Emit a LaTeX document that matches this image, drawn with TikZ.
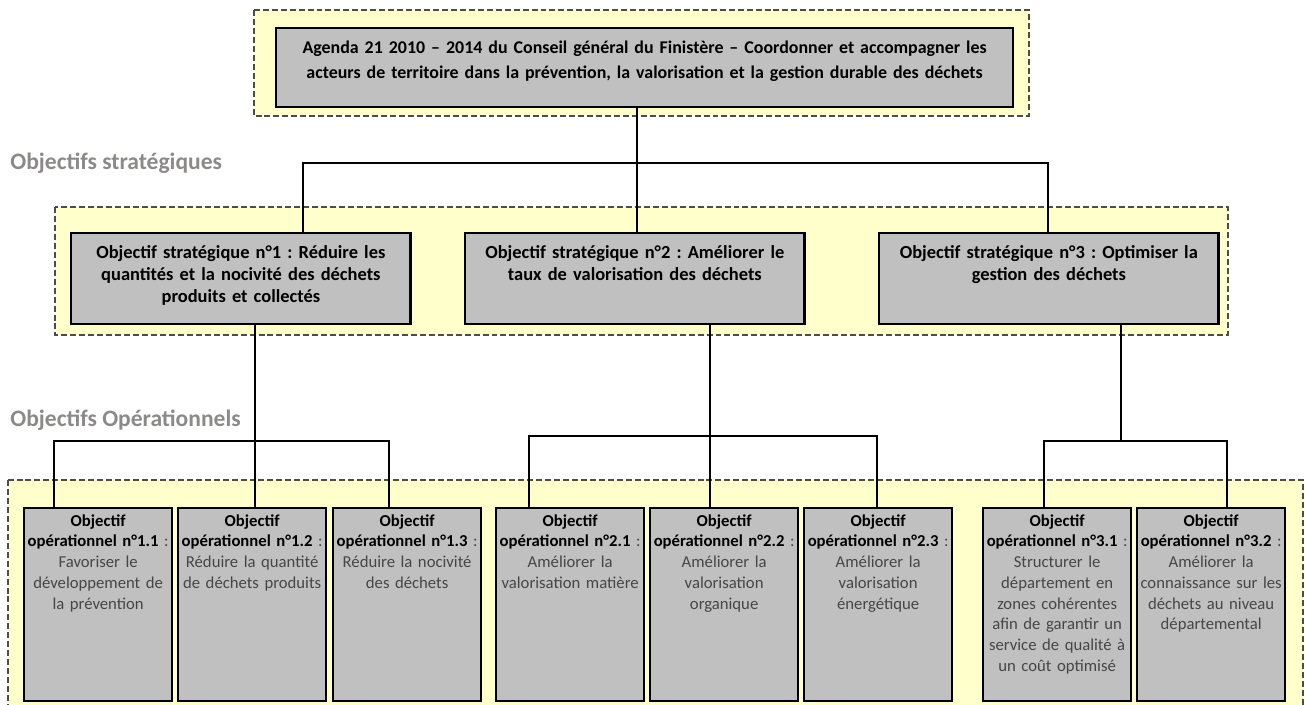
\documentclass[tikz,border=0pt]{standalone}
\usepackage{fontspec}
\setmainfont{Carlito}
\usetikzlibrary{positioning}
\frenchspacing

\definecolor{jaunepanneau}{HTML}{FFFFCC}
\definecolor{grisboite}{HTML}{C0C0C0}
\definecolor{grisniveau}{HTML}{8C8A88}
\definecolor{gristexte}{HTML}{464646}

\newcommand{\objop}[1]{\textcolor{black}{\bfseries Objectif}\\\textcolor{black}{\bfseries opérationnel n°#1} :}

\tikzset{
  panneau/.style={draw=black!70, fill=jaunepanneau, line width=0.6pt, dash pattern=on 3.4pt off 1.7pt},
  boite/.style={draw=black, line width=1.3pt, fill=grisboite, anchor=north west, align=center, inner xsep=1pt, inner ysep=0pt},
  agenda/.style={boite, font=\fontsize{10.2}{14.2}\selectfont\bfseries, text width=14.67cm, text height=0.5cm, text depth=1.08cm},
  strat/.style={boite, font=\fontsize{10.5}{12.5}\selectfont\bfseries, text width=6.72cm, text height=0.5cm, text depth=1.32cm},
  oper/.style={boite, font=\fontsize{9.5}{11.8}\selectfont, text=gristexte, text width=2.89cm, text height=0.36cm, text depth=3.5cm},
  niveau/.style={anchor=west, inner sep=0pt, text=grisniveau, font=\fontsize{13.4}{16}\selectfont\bfseries},
  lien/.style={line width=1.1pt}
}

\begin{document}
\begin{tikzpicture}[x=0.02cm, y=-0.02cm]
  \useasboundingbox (0,0) rectangle (1305,704);

  % panneaux en pointillés
  \draw[panneau] (254,10) rectangle (1029,116);
  \draw[panneau] (55,207) rectangle (1228,335);
  \draw[panneau] (8,480) rectangle (1303,720);

  % niveaux
  \node[niveau] (nstrat) at (10,163) {Objectifs stratégiques};
  \node[niveau] (nop) at (10,420) {Objectifs Opérationnels};

  % 1. Agenda 21
  \node[agenda] (top) at (275,27) {Agenda 21 2010 – 2014 du Conseil général du Finistère – Coordonner et accompagner les\\acteurs de territoire dans la prévention, la valorisation et la gestion durable des déchets};

  % 2. objectifs stratégiques
  \node[strat] (s1) at (70,232) {Objectif stratégique n°1 : Réduire les\\quantités et la nocivité des déchets\\produits et collectés};
  \node[strat] (s2) at (464,232) {Objectif stratégique n°2 : Améliorer le\\taux de valorisation des déchets};
  \node[strat] (s3) at (878,232) {Objectif stratégique n°3 : Optimiser la\\gestion des déchets};

  % 3. objectifs opérationnels
  \node[oper] (o11) at (23,507) {\objop{1.1}\\Favoriser le\\développement de\\la prévention};
  \node[oper] (o12) at (177,507) {\objop{1.2}\\Réduire la quantité\\de déchets produits};
  \node[oper] (o13) at (332,507) {\objop{1.3}\\Réduire la nocivité\\des déchets};
  \node[oper] (o21) at (495,507) {\objop{2.1}\\Améliorer la\\valorisation matière};
  \node[oper] (o22) at (649,507) {\objop{2.2}\\Améliorer la\\valorisation\\organique};
  \node[oper] (o23) at (803,507) {\objop{2.3}\\Améliorer la\\valorisation\\énergétique};
  \node[oper] (o31) at (982,507) {\objop{3.1}\\Structurer le\\département en\\zones cohérentes\\afin de garantir un\\service de qualité à\\un coût optimisé};
  \node[oper] (o32) at (1136,507) {\objop{3.2}\\Améliorer la\\connaissance sur les\\déchets au niveau\\départemental};

  % liens agenda -> stratégiques
  \coordinate (j0) at (637,163);
  \coordinate (b1) at (303,163);
  \coordinate (b3) at (1048,163);
  \draw[lien] (j0 |- top.south) -- (j0 |- s2.north);
  \draw[lien] (b1 |- s1.north) -- (b1) -- (b3) -- (b3 |- s3.north);

  % liens stratégiques -> opérationnels
  \coordinate (g1) at (255,441);
  \coordinate (g2) at (710,436);
  \coordinate (g3) at (1121,441);
  \draw[lien] (g1 |- s1.south) -- (g1 |- o12.north);
  \draw[lien] (54,441 |- o11.north) -- (54,441) -- (389,441) -- (389,441 |- o13.north);
  \draw[lien] (g2 |- s2.south) -- (g2 |- o22.north);
  \draw[lien] (529,436 |- o21.north) -- (529,436) -- (877,436) -- (877,436 |- o23.north);
  \draw[lien] (g3 |- s3.south) -- (g3);
  \draw[lien] (1044,441 |- o31.north) -- (1044,441) -- (1227,441) -- (1227,441 |- o32.north);
\end{tikzpicture}
\end{document}
